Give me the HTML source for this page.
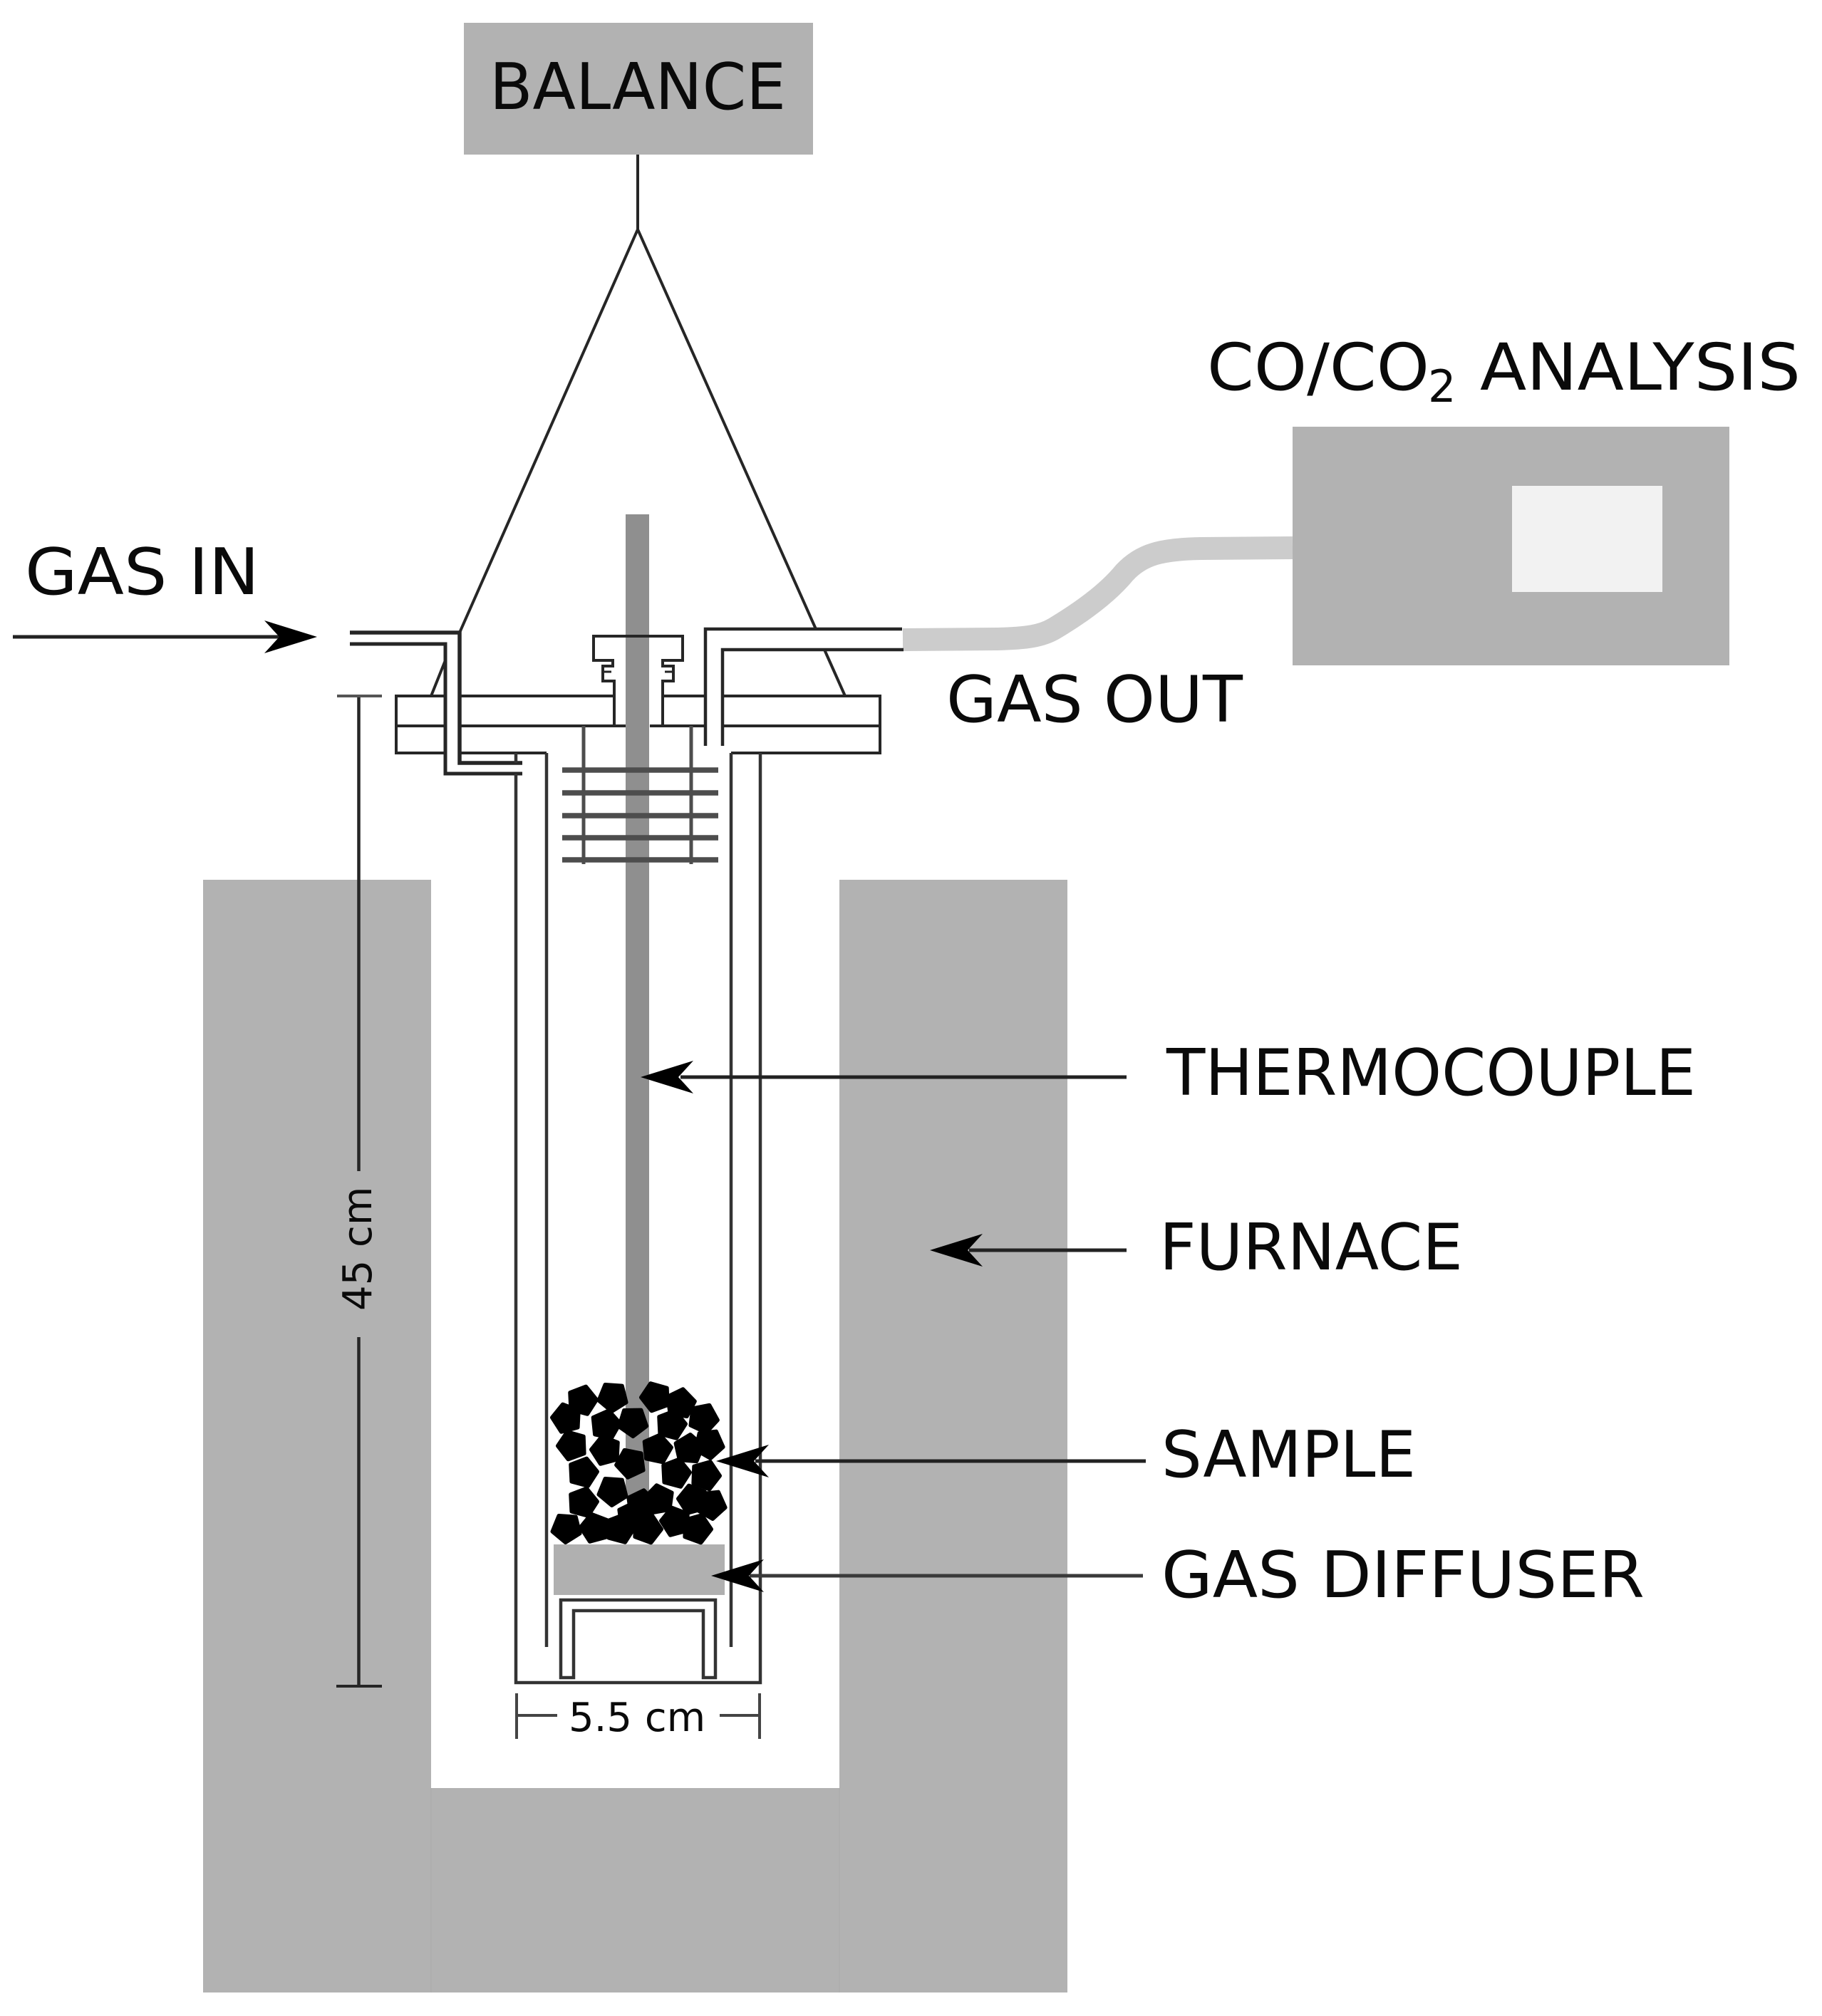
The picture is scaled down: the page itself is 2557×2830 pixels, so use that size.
<!DOCTYPE html>
<html>
<head>
<meta charset="utf-8">
<style>
html,body{margin:0;padding:0;background:#fff;}
svg{display:block;}
text{font-family:"DejaVu Sans",sans-serif;fill:#0a0a0a;}
</style>
</head>
<body>
<svg xmlns="http://www.w3.org/2000/svg" width="2557" height="2830" viewBox="0 0 2557 2830">
<defs>
<polygon id="p" points="0,-20 19,-6.2 11.8,16.2 -11.8,16.2 -19,-6.2" fill="#000" stroke="#000" stroke-width="6" stroke-linejoin="round"/>
<path id="a" d="M0,0 L74,-23 L53,0 L74,23 Z" fill="#000"/>
</defs>
<rect width="2557" height="2830" fill="#fff"/>

<!-- furnace -->
<rect x="285" y="1235" width="320" height="1562" fill="#b2b2b2"/>
<rect x="1178" y="1235" width="320" height="1562" fill="#b2b2b2"/>
<rect x="605" y="2510" width="573" height="287" fill="#b2b2b2"/>
<path d="M605,2510 V2797 M1178,2510 V2797" stroke="#adadad" stroke-width="1.5"/>

<!-- balance -->
<rect x="651" y="32" width="490" height="185" fill="#b2b2b2"/>
<text x="687" y="153" font-size="90" textLength="416" lengthAdjust="spacingAndGlyphs">BALANCE</text>

<!-- analyser -->
<rect x="1814" y="599" width="613" height="335" fill="#b2b2b2"/>
<rect x="2122" y="682" width="211" height="149" fill="#f2f2f2"/>

<!-- gas out tube -->
<path d="M1267,898 L1400,897 C1440,896 1462,893 1480,882 C1520,858 1555,832 1578,804 C1602,778 1630,771 1685,770 L1814,769" fill="none" stroke="#cccccc" stroke-width="32"/>

<!-- thermocouple -->
<rect x="878" y="722" width="33" height="1380" fill="#8f8f8f"/>

<!-- thin lines -->
<g fill="none" stroke="#262626" stroke-width="4">
<!-- hanger and cone -->
<path d="M895,217 V322"/>
<path d="M645,888 L895,322 L1145,883"/>
<path d="M1157,912 L1186,977"/>
<path d="M625,927 L605,977"/>
<!-- flange -->
<path d="M625,977 H556 V1057 H625"/>
<path d="M556,1019 H625"/>
<path d="M645,977 H860"/>
<path d="M645,1019 H878"/>
<path d="M645,1057 H767"/>
<path d="M931,977 H990"/>
<path d="M912,1019 H990"/>
<path d="M1015,977 H1235 V1057 H1026"/>
<path d="M1015,1019 H1235"/>
<!-- gas in -->
<path d="M491,888 H645 V1071 H733" stroke-width="5.5"/>
<path d="M491,904 H625 V1086 H733" stroke-width="5"/>
<!-- gas out -->
<path d="M1266,883 H990 V1047" stroke-width="4.5"/>
<path d="M1268,912 H1014 V1047" stroke-width="4.5"/>
<!-- fitting -->
<path d="M862,1019 V956 H846 V935 H860 V927 H833 V893 H958 V927 H930 V935 H945 V956 H930 V1019"/>
<path d="M846,943 H858 M945,943 H933" stroke-width="3"/>
<!-- tubes -->
<path d="M767,1057 V2312" stroke-width="4.5" stroke="#333"/>
<path d="M724,1057 V1071 M724,1086 V2362 H1067 V1057" stroke-width="4.5" stroke="#333"/>
<path d="M1026,1057 V2312" stroke-width="4.5" stroke="#333"/>
<!-- stand -->
<path d="M787,2355 V2246 H1004 V2355 H987 V2261 H805 V2355 Z" stroke-width="4.5" stroke="#333"/>
<!-- 45cm dimension -->
<path d="M503.5,977 V1644 M503.5,1877 V2367" stroke-width="4.5"/>
<path d="M473,977 H536" stroke="#555" stroke-width="4"/>
<path d="M472,2367 H536" stroke-width="4"/>
<!-- 5.5 cm dimension -->
<path d="M725,2377 V2441 M1066,2377 V2441 M725,2408 H782 M1010,2408 H1066" stroke="#444" stroke-width="4"/>
</g>

<!-- baffles -->
<g fill="none" stroke="#4d4d4d">
<path d="M819,1019 V1213 M970,1019 V1213" stroke-width="5"/>
<path d="M789,1081 H1008 M789,1113 H1008 M789,1145 H1008 M789,1176 H1008 M789,1207 H1008" stroke-width="7.5"/>
</g>

<!-- gas diffuser -->
<rect x="777" y="2168" width="240" height="71" fill="#b0b0b0"/>

<!-- sample -->
<g>
<use href="#p" transform="translate(817,1966) rotate(15)"/>
<use href="#p" transform="translate(860,1961) rotate(40)"/>
<use href="#p" transform="translate(920,1961) rotate(-20)"/>
<use href="#p" transform="translate(955,1970) rotate(10)"/>
<use href="#p" transform="translate(987,1991) rotate(25)"/>
<use href="#p" transform="translate(795,1991) rotate(-15)"/>
<use href="#p" transform="translate(850,2000) rotate(12)"/>
<use href="#p" transform="translate(888,1996) rotate(35)"/>
<use href="#p" transform="translate(942,2000) rotate(15)"/>
<use href="#p" transform="translate(803,2029) rotate(-20)"/>
<use href="#p" transform="translate(850,2036) rotate(-15)"/>
<use href="#p" transform="translate(922,2034) rotate(12)"/>
<use href="#p" transform="translate(967,2034) rotate(5)"/>
<use href="#p" transform="translate(995,2027) rotate(30)"/>
<use href="#p" transform="translate(885,2054) rotate(-25)"/>
<use href="#p" transform="translate(818,2067) rotate(15)"/>
<use href="#p" transform="translate(948,2068) rotate(15)"/>
<use href="#p" transform="translate(990,2071) rotate(20)"/>
<use href="#p" transform="translate(860,2093) rotate(40)"/>
<use href="#p" transform="translate(818,2109) rotate(15)"/>
<use href="#p" transform="translate(900,2112) rotate(10)"/>
<use href="#p" transform="translate(925,2105) rotate(-10)"/>
<use href="#p" transform="translate(972,2105) rotate(-15)"/>
<use href="#p" transform="translate(998,2112) rotate(30)"/>
<use href="#p" transform="translate(887,2129) rotate(10)"/>
<use href="#p" transform="translate(795,2145) rotate(40)"/>
<use href="#p" transform="translate(835,2145) rotate(-15)"/>
<use href="#p" transform="translate(870,2146) rotate(15)"/>
<use href="#p" transform="translate(908,2146) rotate(20)"/>
<use href="#p" transform="translate(948,2136) rotate(-15)"/>
<use href="#p" transform="translate(978,2146) rotate(20)"/>
</g>

<!-- arrows -->
<g stroke="#222" stroke-width="5" fill="none">
<path d="M18,894 H395"/>
<path d="M955,1512 H1581"/>
<path d="M1360,1755 H1581"/>
<path d="M1060,2051 H1608"/>
<path d="M1052,2212 H1604" stroke="#3a3a3a"/>
</g>
<use href="#a" transform="translate(445,894) rotate(180)"/>
<use href="#a" transform="translate(899,1512)"/>
<use href="#a" transform="translate(1305,1755)"/>
<use href="#a" transform="translate(1005,2051)"/>
<use href="#a" transform="translate(998,2212)"/>

<!-- labels -->
<text x="1694" y="547" font-size="91" textLength="312" lengthAdjust="spacingAndGlyphs">CO/CO</text>
<text x="2004" y="564" font-size="62">2</text>
<text x="2077" y="547" font-size="91" textLength="450" lengthAdjust="spacingAndGlyphs">ANALYSIS</text>
<text x="35" y="834" font-size="90" textLength="329" lengthAdjust="spacingAndGlyphs">GAS IN</text>
<text x="1328" y="1013" font-size="90" textLength="416" lengthAdjust="spacingAndGlyphs">GAS OUT</text>
<text x="1637" y="1537" font-size="90" textLength="743" lengthAdjust="spacingAndGlyphs">THERMOCOUPLE</text>
<text x="1627" y="1782" font-size="90" textLength="426" lengthAdjust="spacingAndGlyphs">FURNACE</text>
<text x="1630" y="2073" font-size="90" textLength="357" lengthAdjust="spacingAndGlyphs">SAMPLE</text>
<text x="1630" y="2242" font-size="90" textLength="678" lengthAdjust="spacingAndGlyphs">GAS DIFFUSER</text>
<text x="798" y="2430" font-size="56" fill="#222">5.5 cm</text>
<text transform="translate(521,1840) rotate(-90)" font-size="56" fill="#222">45 cm</text>
</svg>
</body>
</html>
